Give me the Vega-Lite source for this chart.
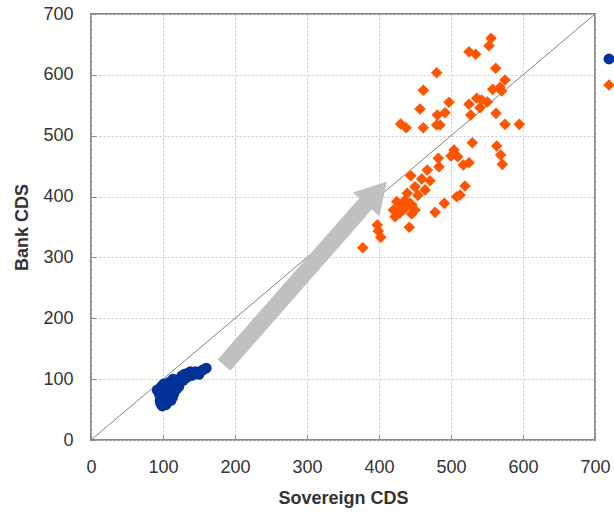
{
  "$schema": "https://vega.github.io/schema/vega-lite/v6.json",
  "width": 504,
  "height": 426,
  "autosize": "none",
  "padding": {"left": 91, "top": 14, "right": 19, "bottom": 72},
  "config": {
    "font": "Liberation Sans",
    "view": {"stroke": "#888888", "strokeWidth": 2},
    "axis": {
      "domain": false,
      "grid": true,
      "gridColor": "#c8c8c8",
      "gridDash": [2, 2],
      "gridWidth": 1,
      "ticks": true,
      "tickColor": "#888888",
      "tickSize": -5,
      "labelFlush": false,
      "labelFont": "Liberation Sans",
      "labelFontSize": 18,
      "labelColor": "#333333",
      "titleFont": "Liberation Sans",
      "titleFontSize": 18,
      "titleFontWeight": "bold",
      "titleColor": "#333333"
    }
  },
  "datasets": {
    "pts": [
      {"sov": 92, "bank": 82, "period": "Pre-crisis"},
      {"sov": 95, "bank": 75, "period": "Pre-crisis"},
      {"sov": 96, "bank": 65, "period": "Pre-crisis"},
      {"sov": 97, "bank": 60, "period": "Pre-crisis"},
      {"sov": 99, "bank": 56, "period": "Pre-crisis"},
      {"sov": 100, "bank": 68, "period": "Pre-crisis"},
      {"sov": 102, "bank": 72, "period": "Pre-crisis"},
      {"sov": 103, "bank": 78, "period": "Pre-crisis"},
      {"sov": 104, "bank": 85, "period": "Pre-crisis"},
      {"sov": 105, "bank": 62, "period": "Pre-crisis"},
      {"sov": 107, "bank": 67, "period": "Pre-crisis"},
      {"sov": 108, "bank": 74, "period": "Pre-crisis"},
      {"sov": 110, "bank": 80, "period": "Pre-crisis"},
      {"sov": 112, "bank": 88, "period": "Pre-crisis"},
      {"sov": 113, "bank": 70, "period": "Pre-crisis"},
      {"sov": 115, "bank": 76, "period": "Pre-crisis"},
      {"sov": 117, "bank": 83, "period": "Pre-crisis"},
      {"sov": 118, "bank": 92, "period": "Pre-crisis"},
      {"sov": 120, "bank": 95, "period": "Pre-crisis"},
      {"sov": 122, "bank": 88, "period": "Pre-crisis"},
      {"sov": 124, "bank": 100, "period": "Pre-crisis"},
      {"sov": 126, "bank": 105, "period": "Pre-crisis"},
      {"sov": 128, "bank": 98, "period": "Pre-crisis"},
      {"sov": 130, "bank": 108, "period": "Pre-crisis"},
      {"sov": 132, "bank": 102, "period": "Pre-crisis"},
      {"sov": 135, "bank": 110, "period": "Pre-crisis"},
      {"sov": 138, "bank": 112, "period": "Pre-crisis"},
      {"sov": 140, "bank": 106, "period": "Pre-crisis"},
      {"sov": 145, "bank": 112, "period": "Pre-crisis"},
      {"sov": 150, "bank": 108, "period": "Pre-crisis"},
      {"sov": 155, "bank": 115, "period": "Pre-crisis"},
      {"sov": 160, "bank": 118, "period": "Pre-crisis"},
      {"sov": 98, "bank": 88, "period": "Pre-crisis"},
      {"sov": 101, "bank": 92, "period": "Pre-crisis"},
      {"sov": 106, "bank": 90, "period": "Pre-crisis"},
      {"sov": 109, "bank": 95, "period": "Pre-crisis"},
      {"sov": 114, "bank": 100, "period": "Pre-crisis"},
      {"sov": 119, "bank": 84, "period": "Pre-crisis"},
      {"sov": 111, "bank": 65, "period": "Pre-crisis"},
      {"sov": 104, "bank": 58, "period": "Pre-crisis"},
      {"sov": 555.6, "bank": 660.0, "period": "Crisis"},
      {"sov": 552.8, "bank": 647.9, "period": "Crisis"},
      {"sov": 525.0, "bank": 638.0, "period": "Crisis"},
      {"sov": 534.3, "bank": 633.8, "period": "Crisis"},
      {"sov": 562.1, "bank": 610.8, "period": "Crisis"},
      {"sov": 480.1, "bank": 603.5, "period": "Crisis"},
      {"sov": 575.0, "bank": 591.5, "period": "Crisis"},
      {"sov": 461.5, "bank": 574.6, "period": "Crisis"},
      {"sov": 557.9, "bank": 576.2, "period": "Crisis"},
      {"sov": 568.1, "bank": 579.5, "period": "Crisis"},
      {"sov": 570.4, "bank": 573.4, "period": "Crisis"},
      {"sov": 497.2, "bank": 554.9, "period": "Crisis"},
      {"sov": 525.0, "bank": 551.6, "period": "Crisis"},
      {"sov": 535.7, "bank": 561.5, "period": "Crisis"},
      {"sov": 542.6, "bank": 558.7, "period": "Crisis"},
      {"sov": 550.4, "bank": 555.4, "period": "Crisis"},
      {"sov": 540.3, "bank": 546.0, "period": "Crisis"},
      {"sov": 456.9, "bank": 543.9, "period": "Crisis"},
      {"sov": 481.0, "bank": 534.0, "period": "Crisis"},
      {"sov": 491.7, "bank": 537.8, "period": "Crisis"},
      {"sov": 527.4, "bank": 534.0, "period": "Crisis"},
      {"sov": 562.5, "bank": 536.8, "period": "Crisis"},
      {"sov": 430.1, "bank": 519.2, "period": "Crisis"},
      {"sov": 437.5, "bank": 513.1, "period": "Crisis"},
      {"sov": 461.5, "bank": 513.1, "period": "Crisis"},
      {"sov": 480.1, "bank": 517.6, "period": "Crisis"},
      {"sov": 484.7, "bank": 517.6, "period": "Crisis"},
      {"sov": 575.0, "bank": 518.7, "period": "Crisis"},
      {"sov": 594.9, "bank": 518.7, "period": "Crisis"},
      {"sov": 529.6, "bank": 488.5, "period": "Crisis"},
      {"sov": 563.5, "bank": 483.1, "period": "Crisis"},
      {"sov": 504.2, "bank": 476.5, "period": "Crisis"},
      {"sov": 500.0, "bank": 466.6, "period": "Crisis"},
      {"sov": 509.3, "bank": 465.5, "period": "Crisis"},
      {"sov": 482.4, "bank": 462.9, "period": "Crisis"},
      {"sov": 569.0, "bank": 468.3, "period": "Crisis"},
      {"sov": 571.3, "bank": 453.0, "period": "Crisis"},
      {"sov": 483.3, "bank": 449.1, "period": "Crisis"},
      {"sov": 525.0, "bank": 455.6, "period": "Crisis"},
      {"sov": 517.1, "bank": 451.9, "period": "Crisis"},
      {"sov": 444.0, "bank": 434.3, "period": "Crisis"},
      {"sov": 467.1, "bank": 443.6, "period": "Crisis"},
      {"sov": 470.8, "bank": 426.1, "period": "Crisis"},
      {"sov": 459.3, "bank": 428.9, "period": "Crisis"},
      {"sov": 450.0, "bank": 416.2, "period": "Crisis"},
      {"sov": 519.4, "bank": 417.3, "period": "Crisis"},
      {"sov": 439.3, "bank": 405.4, "period": "Crisis"},
      {"sov": 507.9, "bank": 399.8, "period": "Crisis"},
      {"sov": 512.5, "bank": 402.6, "period": "Crisis"},
      {"sov": 424.6, "bank": 391.6, "period": "Crisis"},
      {"sov": 443.1, "bank": 388.9, "period": "Crisis"},
      {"sov": 490.7, "bank": 388.9, "period": "Crisis"},
      {"sov": 419.9, "bank": 377.9, "period": "Crisis"},
      {"sov": 436.1, "bank": 380.7, "period": "Crisis"},
      {"sov": 450.0, "bank": 377.9, "period": "Crisis"},
      {"sov": 477.8, "bank": 374.1, "period": "Crisis"},
      {"sov": 422.2, "bank": 366.9, "period": "Crisis"},
      {"sov": 445.4, "bank": 371.3, "period": "Crisis"},
      {"sov": 442.1, "bank": 349.5, "period": "Crisis"},
      {"sov": 397.6, "bank": 353.3, "period": "Crisis"},
      {"sov": 399.0, "bank": 343.4, "period": "Crisis"},
      {"sov": 402.4, "bank": 333.1, "period": "Crisis"},
      {"sov": 377.4, "bank": 316.0, "period": "Crisis"},
      {"sov": 429, "bank": 386, "period": "Crisis"},
      {"sov": 436, "bank": 394, "period": "Crisis"},
      {"sov": 454, "bank": 402, "period": "Crisis"},
      {"sov": 464, "bank": 411, "period": "Crisis"},
      {"sov": 429, "bank": 373, "period": "Crisis"},
      {"sov": 446, "bank": 386, "period": "Crisis"}
    ],
    "diag": [{"x": 0, "y": 0, "x2": 700, "y2": 700}],
    "shaft": [{"x": 184.7, "y": 123.2, "x2": 382, "y2": 389}],
    "head": [{"x": 396.5, "y": 405.9}]
  },
  "layer": [
    {
      "data": {"name": "diag"},
      "mark": {"type": "rule", "color": "#808080", "strokeWidth": 1},
      "encoding": {
        "x": {"field": "x", "type": "quantitative", "scale": {"domain": [0, 700], "nice": false}, "axis": {"values": [0, 100, 200, 300, 400, 500, 600, 700], "title": "Sovereign CDS", "labelPadding": 23, "titlePadding": 13}},
        "y": {"field": "y", "type": "quantitative", "scale": {"domain": [0, 700], "nice": false}, "axis": {"values": [0, 100, 200, 300, 400, 500, 600, 700], "title": "Bank CDS", "labelPadding": 23, "titlePadding": 11}},
        "x2": {"field": "x2"},
        "y2": {"field": "y2"}
      }
    },
    {
      "data": {"name": "shaft"},
      "mark": {"type": "rule", "color": "#c0c0c0", "strokeWidth": 17, "strokeCap": "butt"},
      "encoding": {
        "x": {"field": "x", "type": "quantitative"},
        "y": {"field": "y", "type": "quantitative"},
        "x2": {"field": "x2"},
        "y2": {"field": "y2"}
      }
    },
    {
      "data": {"name": "head"},
      "mark": {"type": "point", "shape": "triangle-up", "filled": true, "color": "#c0c0c0", "opacity": 1, "size": 1260, "angle": 42},
      "encoding": {
        "x": {"field": "x", "type": "quantitative"},
        "y": {"field": "y", "type": "quantitative"}
      }
    },
    {
      "data": {"name": "pts"},
      "mark": {"type": "point", "filled": true, "opacity": 1},
      "encoding": {
        "x": {"field": "sov", "type": "quantitative"},
        "y": {"field": "bank", "type": "quantitative"},
        "color": {"field": "period", "type": "nominal", "scale": {"domain": ["Pre-crisis", "Crisis"], "range": ["#003399", "#ff5500"]}, "legend": {"title": null, "orient": "none", "legendX": 510, "legendY": 37, "labelFontSize": 16, "symbolSize": 100, "rowPadding": 10, "labelColor": "#333333"}},
        "shape": {"field": "period", "type": "nominal", "scale": {"domain": ["Pre-crisis", "Crisis"], "range": ["circle", "diamond"]}},
        "size": {"field": "period", "type": "nominal", "scale": {"domain": ["Pre-crisis", "Crisis"], "range": [120, 135]}, "legend": null}
      }
    }
  ]
}
